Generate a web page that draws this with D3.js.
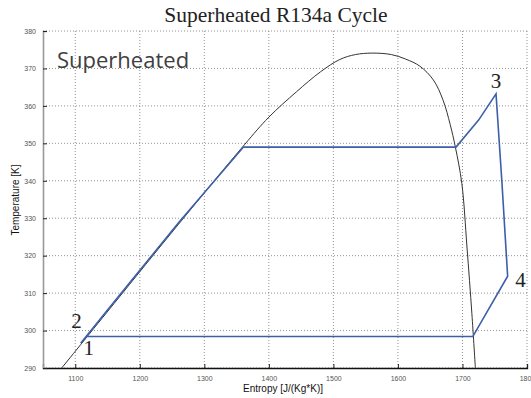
<!DOCTYPE html>
<html>
<head>
<meta charset="utf-8">
<script src="https://cdn.jsdelivr.net/npm/d3@7"></script>
<style>
  html, body { margin: 0; padding: 0; background: #fff; }
  svg { display: block; }
</style>
</head>
<body>
<svg id="chart" width="531" height="398"></svg>
<script>
// ---- Data ----
const xTicks = [1100, 1200, 1300, 1400, 1500, 1600, 1700, 1800];
const yTicks = [290, 300, 310, 320, 330, 340, 350, 360, 370, 380];

// Saturation dome: entropy [J/(kg*K)], temperature [K]
const domeS = [1079, 1160, 1260, 1362, 1400, 1443, 1480, 1510, 1534, 1560, 1590, 1612, 1634, 1655, 1670, 1681, 1689, 1699, 1707, 1714.6, 1720];
const domeT = [290, 307.2, 328.4, 349.6, 357.0, 363.8, 369.1, 372.4, 373.7, 374.1, 373.7, 372.5, 370.6, 366.9, 361.5, 355.0, 349.0, 339.3, 322.3, 304.5, 290];

// Cycle path (1 -> 2 -> evaporation -> 3 -> 4 -> condensation -> 1)
const cycleS = [1108.4, 1160, 1260, 1360.6, 1690, 1725, 1752, 1761, 1770, 1716, 1117.7, 1108.4];
const cycleT = [296.6, 307.6, 328.8, 349.0, 349.0, 356.2, 363.2, 340.0, 314.5, 298.4, 298.4, 296.6];

// State labels
const stateNames = ["1", "2", "3", "4"];
const stateS = [1121, 1102, 1752, 1790];
const stateT = [293.5, 300.7, 364.8, 311.6];

const titleText = "Superheated R134a Cycle";
const regionText = "Superheated";
const xLabel = "Entropy [J/(Kg*K)]";
const yLabel = "Temperature [K]";

// ---- Chart ----
const svg = d3.select("#chart");
const L = 43, R = 527, T = 31, B = 368;
const x = d3.scaleLinear().domain([1050, 1800]).range([L, R]);
const y = d3.scaleLinear().domain([290, 380]).range([B, T]);

// grid
const grid = svg.append("g");
grid.selectAll("line.gx").data(xTicks).join("line")
  .attr("x1", d => x(d)).attr("x2", d => x(d))
  .attr("y1", T).attr("y2", B)
  .attr("stroke", "#777").attr("stroke-width", 0.8).attr("stroke-dasharray", "1,2");
grid.selectAll("line.gy").data(yTicks).join("line")
  .attr("x1", L).attr("x2", R)
  .attr("y1", d => y(d)).attr("y2", d => y(d))
  .attr("stroke", "#777").attr("stroke-width", 0.8).attr("stroke-dasharray", "1,2");

// axes
const xAxis = d3.axisBottom(x).tickValues(xTicks).tickSize(-4).tickPadding(8).tickFormat(d3.format("d"));
const yAxis = d3.axisLeft(y).tickValues(yTicks).tickSize(-4).tickPadding(7).tickFormat(d3.format("d"));

const gx = svg.append("g").attr("transform", `translate(0,${B})`).call(xAxis);
gx.select(".domain").attr("stroke", "#111").attr("stroke-width", 1.3);
gx.selectAll(".tick line").attr("stroke", "#222");
gx.selectAll(".tick text").attr("font-family", "Liberation Sans, Arial, sans-serif")
  .attr("font-size", 7).attr("fill", "#555");

const gy = svg.append("g").attr("transform", `translate(${L},0)`).call(yAxis);
gy.select(".domain").attr("stroke", "#999").attr("stroke-width", 1.6);
gy.selectAll(".tick line").attr("stroke", "#222");
gy.selectAll(".tick text").attr("font-family", "Liberation Sans, Arial, sans-serif")
  .attr("font-size", 7).attr("fill", "#555");

// clip
svg.append("clipPath").attr("id", "clip").append("rect")
  .attr("x", L).attr("y", T - 2).attr("width", R - L).attr("height", B - T + 2);

// dome
const dome = domeS.map((s, i) => [s, domeT[i]]);
svg.append("path")
  .attr("clip-path", "url(#clip)")
  .attr("d", d3.line().x(d => x(d[0])).y(d => y(d[1])).curve(d3.curveCatmullRom.alpha(0.5))(dome))
  .attr("fill", "none").attr("stroke", "#333").attr("stroke-width", 1);

// cycle
const cycle = cycleS.map((s, i) => [s, cycleT[i]]);
svg.append("path")
  .attr("clip-path", "url(#clip)")
  .attr("d", d3.line().x(d => x(d[0])).y(d => y(d[1]))(cycle))
  .attr("fill", "none").attr("stroke", "#3d5ea8").attr("stroke-width", 1.6)
  .attr("stroke-linejoin", "miter");

// state labels
svg.selectAll("text.state").data(stateNames).join("text")
  .attr("class", "state")
  .attr("x", (d, i) => x(stateS[i])).attr("y", (d, i) => y(stateT[i]))
  .attr("text-anchor", "middle")
  .attr("font-family", "Liberation Serif, Times New Roman, serif")
  .attr("font-size", 21).attr("fill", "#222")
  .text(d => d);

// region label
svg.append("text").attr("x", 57).attr("y", 68)
  .attr("font-family", "Open Sans, sans-serif").attr("font-size", 22)
  .attr("fill", "#404040").text(regionText);

// title
svg.append("text").attr("x", 276).attr("y", 22).attr("text-anchor", "middle")
  .attr("font-family", "Liberation Serif, Times New Roman, serif").attr("font-size", 21.5)
  .attr("fill", "#222").text(titleText);

// axis labels
svg.append("text").attr("x", 283).attr("y", 392).attr("text-anchor", "middle")
  .attr("font-family", "Liberation Sans, Arial, sans-serif").attr("font-size", 10)
  .attr("fill", "#111").text(xLabel);
svg.append("text").attr("transform", "translate(19,200) rotate(-90)").attr("text-anchor", "middle")
  .attr("font-family", "Liberation Sans, Arial, sans-serif").attr("font-size", 10)
  .attr("fill", "#111").text(yLabel);
</script>
</body>
</html>
